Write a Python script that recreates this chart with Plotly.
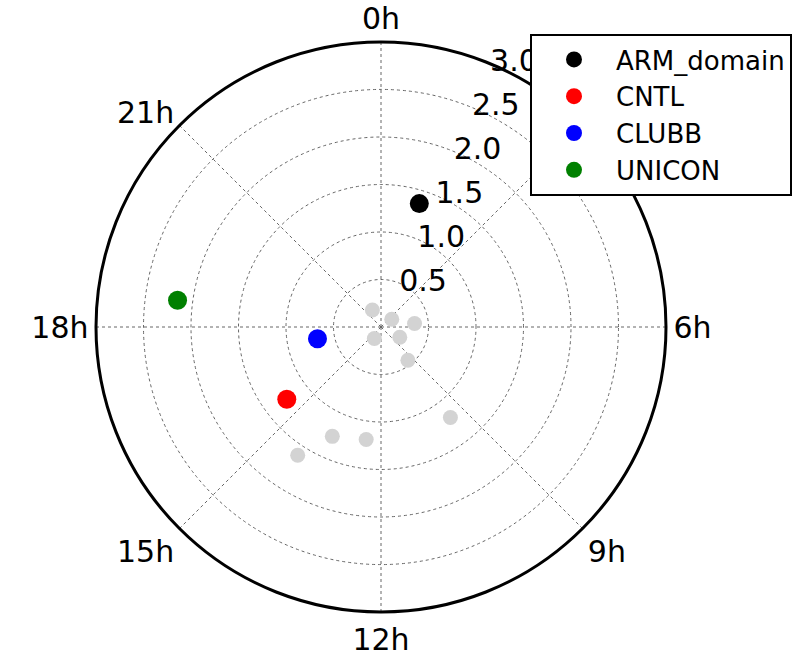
import plotly.graph_objects as go

# Diurnal phase (local hour) and amplitude of each dataset
hour_labels = ["0h", "3h", "6h", "9h", "12h", "15h", "18h", "21h"]
hour_ticks = [0, 3, 6, 9, 12, 15, 18, 21]
radial_ticks = [0.5, 1.0, 1.5, 2.0, 2.5, 3.0]
radial_labels = ["0.5", "1.0", "1.5", "2.0", "2.5", "3.0"]
radial_label_hour = 1.5  # radial labels sit along the 22.5 degree spoke

series_names = ["ARM_domain", "CNTL", "CLUBB", "UNICON"]
series_colors = ["black", "red", "blue", "green"]
series_hours = [1.15, 15.5, 17.3, 18.5]
series_amp = [1.36, 1.25, 0.68, 2.16]

# Background (individual sites) shown in light gray
gray_hours = [22.2, 3.6, 5.6, 14.0, 7.9, 9.4, 9.5, 13.6, 12.5, 14.2]
gray_amp = [0.20, 0.14, 0.355, 0.14, 0.225, 0.45, 1.20, 1.26, 1.195, 1.61]

FONT = "DejaVu Sans"

def to_deg(hours):
    return [h * 15.0 for h in hours]

fig = go.Figure()

fig.add_trace(go.Scatterpolar(
    r=gray_amp, theta=to_deg(gray_hours), mode="markers",
    marker=dict(color="#d3d3d3", size=15), showlegend=False,
    hoverinfo="skip",
))

for name, color, h, a in zip(series_names, series_colors, series_hours, series_amp):
    fig.add_trace(go.Scatterpolar(
        r=[a], theta=to_deg([h]), mode="markers", name=name,
        marker=dict(color=color, size=19),
    ))

# Radial tick labels placed just right of the label spoke
fig.add_trace(go.Scatterpolar(
    r=radial_ticks, theta=to_deg([radial_label_hour] * len(radial_ticks)),
    mode="text", text=radial_labels, textposition="middle right",
    textfont=dict(size=30, family=FONT, color="black"),
    showlegend=False, hoverinfo="skip", cliponaxis=False,
))

cx, cy, rad = 381, 327, 285
W, H = 802, 656

fig.update_layout(
    width=W, height=H,
    margin=dict(l=0, r=0, t=0, b=0),
    paper_bgcolor="white",
    font=dict(family=FONT, color="black", size=26),
    polar=dict(
        domain=dict(x=[(cx - rad) / W, (cx + rad) / W],
                    y=[1 - (cy + rad) / H, 1 - (cy - rad) / H]),
        bgcolor="white",
        angularaxis=dict(
            rotation=90, direction="clockwise",
            tickmode="array", tickvals=to_deg(hour_ticks), ticktext=hour_labels,
            showline=True, linecolor="black", linewidth=3,
            showgrid=True, gridcolor="#666666", gridwidth=1, griddash="dot",
            ticks="", tickfont=dict(size=30, family=FONT),
        ),
        radialaxis=dict(
            range=[0, 3.0],
            tickmode="array", tickvals=radial_ticks,
            showticklabels=False, showline=False, ticks="",
            showgrid=True, gridcolor="#666666", gridwidth=1, griddash="dot",
        ),
    ),
    legend=dict(
        x=530 / W, y=1 - 34 / H, xanchor="left", yanchor="top",
        bgcolor="white", bordercolor="black", borderwidth=2,
        font=dict(size=26, family=FONT), itemwidth=74,
    ),
)

fig.write_html("out.html")
